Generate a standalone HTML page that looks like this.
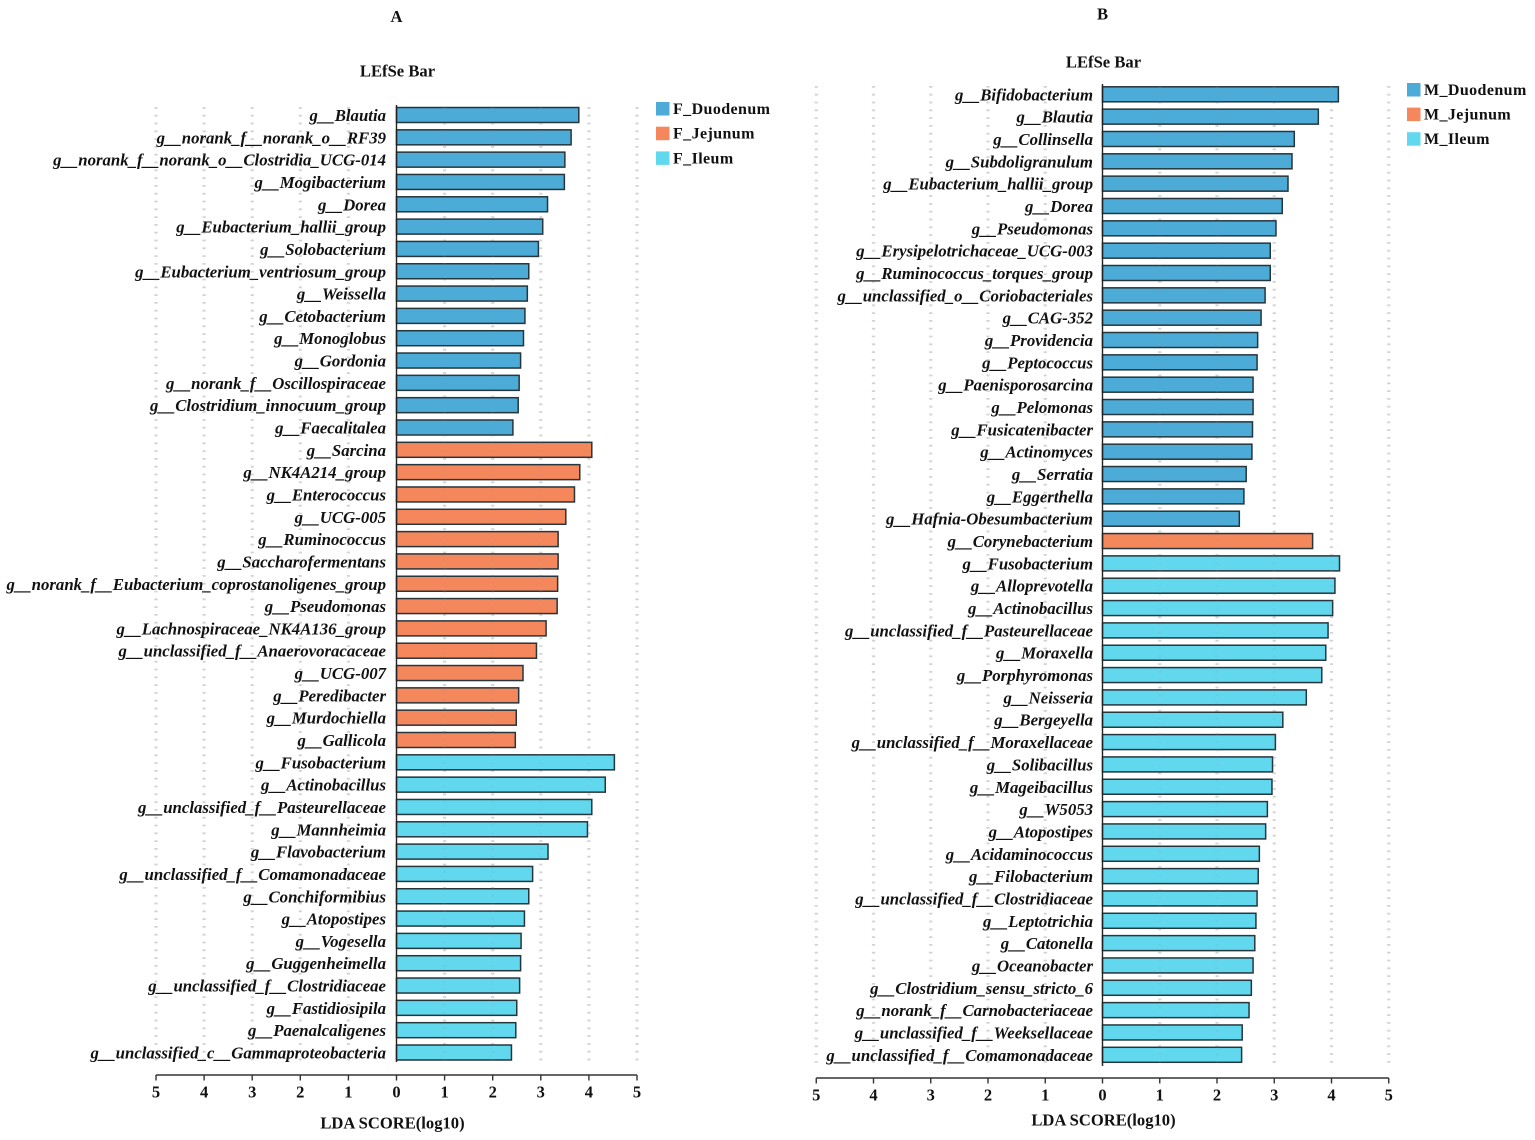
<!DOCTYPE html>
<html lang="en">
<head>
<meta charset="utf-8">
<title>LEfSe Bar charts</title>
<style>
html,body{margin:0;padding:0;background:#fff;}
svg{display:block;}
text{font-family:"Liberation Serif",serif;font-weight:bold;fill:#111;}
.lab{font-style:italic;font-size:16.8px;text-anchor:end;}
.tick{font-size:16.5px;text-anchor:middle;}
.ttl{font-size:16.6px;text-anchor:middle;}
.leg{font-size:16px;letter-spacing:.4px;}
</style>
</head>
<body>
<svg id="chart" xmlns="http://www.w3.org/2000/svg" width="1535" height="1140" viewBox="0 0 1535 1140">
<rect x="0" y="0" width="1535" height="1140" fill="#ffffff"/>
</svg>
<script>
var tickLabels = [5,4,3,2,1,0,1,2,3,4,5];

var groupsA = ["F_Duodenum","F_Jejunum","F_Ileum"];
var taxaA = ["g__Blautia","g__norank_f__norank_o__RF39","g__norank_f__norank_o__Clostridia_UCG-014","g__Mogibacterium","g__Dorea","g__Eubacterium_hallii_group","g__Solobacterium","g__Eubacterium_ventriosum_group","g__Weissella","g__Cetobacterium","g__Monoglobus","g__Gordonia","g__norank_f__Oscillospiraceae","g__Clostridium_innocuum_group","g__Faecalitalea","g__Sarcina","g__NK4A214_group","g__Enterococcus","g__UCG-005","g__Ruminococcus","g__Saccharofermentans","g__norank_f__Eubacterium_coprostanoligenes_group","g__Pseudomonas","g__Lachnospiraceae_NK4A136_group","g__unclassified_f__Anaerovoracaceae","g__UCG-007","g__Peredibacter","g__Murdochiella","g__Gallicola","g__Fusobacterium","g__Actinobacillus","g__unclassified_f__Pasteurellaceae","g__Mannheimia","g__Flavobacterium","g__unclassified_f__Comamonadaceae","g__Conchiformibius","g__Atopostipes","g__Vogesella","g__Guggenheimella","g__unclassified_f__Clostridiaceae","g__Fastidiosipila","g__Paenalcaligenes","g__unclassified_c__Gammaproteobacteria"];
var valuesA = [3.79,3.63,3.50,3.49,3.14,3.04,2.95,2.75,2.72,2.67,2.64,2.58,2.55,2.53,2.42,4.06,3.81,3.70,3.52,3.36,3.36,3.35,3.34,3.11,2.91,2.63,2.54,2.49,2.47,4.53,4.34,4.06,3.97,3.15,2.83,2.75,2.66,2.59,2.58,2.56,2.50,2.48,2.39];
var memberA = [0,0,0,0,0,0,0,0,0,0,0,0,0,0,0,1,1,1,1,1,1,1,1,1,1,1,1,1,1,2,2,2,2,2,2,2,2,2,2,2,2,2,2];

var groupsB = ["M_Duodenum","M_Jejunum","M_Ileum"];
var taxaB = ["g__Bifidobacterium","g__Blautia","g__Collinsella","g__Subdoligranulum","g__Eubacterium_hallii_group","g__Dorea","g__Pseudomonas","g__Erysipelotrichaceae_UCG-003","g__Ruminococcus_torques_group","g__unclassified_o__Coriobacteriales","g__CAG-352","g__Providencia","g__Peptococcus","g__Paenisporosarcina","g__Pelomonas","g__Fusicatenibacter","g__Actinomyces","g__Serratia","g__Eggerthella","g__Hafnia-Obesumbacterium","g__Corynebacterium","g__Fusobacterium","g__Alloprevotella","g__Actinobacillus","g__unclassified_f__Pasteurellaceae","g__Moraxella","g__Porphyromonas","g__Neisseria","g__Bergeyella","g__unclassified_f__Moraxellaceae","g__Solibacillus","g__Mageibacillus","g__W5053","g__Atopostipes","g__Acidaminococcus","g__Filobacterium","g__unclassified_f__Clostridiaceae","g__Leptotrichia","g__Catonella","g__Oceanobacter","g__Clostridium_sensu_stricto_6","g__norank_f__Carnobacteriaceae","g__unclassified_f__Weeksellaceae","g__unclassified_f__Comamonadaceae"];
var valuesB = [4.12,3.77,3.35,3.31,3.24,3.14,3.03,2.93,2.93,2.84,2.77,2.71,2.70,2.63,2.63,2.62,2.61,2.51,2.47,2.39,3.67,4.14,4.06,4.02,3.94,3.90,3.83,3.56,3.15,3.02,2.97,2.96,2.88,2.85,2.74,2.72,2.70,2.68,2.66,2.63,2.60,2.56,2.44,2.43];
var memberB = [0,0,0,0,0,0,0,0,0,0,0,0,0,0,0,0,0,0,0,0,1,2,2,2,2,2,2,2,2,2,2,2,2,2,2,2,2,2,2,2,2,2,2,2];

var palette = ["#4dabd7","#f5875c","#62d8ee"];
var NS = "http://www.w3.org/2000/svg";
var root = document.getElementById("chart");

function mk(tag, attrs, parent, txt) {
  var e = document.createElementNS(NS, tag);
  for (var k in attrs) { e.setAttribute(k, attrs[k]); }
  if (txt !== undefined) { e.textContent = txt; }
  (parent || root).appendChild(e);
  return e;
}

function drawPanel(letter, taxa, values, member, groups, cfg) {
  var g = mk("g", {});
  
  
  function xs(v) { return cfg.x0 + v * cfg.unit; }
  function ys(i) { return cfg.yFirst + i * (cfg.yLast - cfg.yFirst) / (taxa.length - 1); }

  var t1 = mk("text", {x: cfg.x0, y: cfg.letterY, "class": "ttl"}, g, letter);
  
  
  var t2 = mk("text", {x: cfg.x0 + 1, y: cfg.titleY, "class": "ttl"}, g, "LEfSe Bar");
  
  

  tickLabels.forEach(function (lab, i) {
    var v = i - 5;
    if (v !== 0) {
      var gl = mk("line", {x1: xs(v), x2: xs(v), y1: cfg.gridTop, y2: cfg.gridBot, stroke: "#dfdfdf", "stroke-width": 3.2, "stroke-dasharray": "1.8 6"}, g);
      
      
    }
  });

  taxa.forEach(function (name, i) {
    var r = mk("rect", {x: xs(0), y: ys(i) - cfg.barH / 2, width: values[i] * cfg.unit, height: cfg.barH, fill: palette[member[i]], stroke: "#26363d", "stroke-width": 1.5}, g);
    
    
    var l = mk("text", {x: cfg.labelX, y: ys(i) + 6, "class": "lab"}, g, name);
    
    
  });

  tickLabels.forEach(function (lab, i) {
    var v = i - 5;
    if (v !== 0) {
      var gl = mk("line", {x1: xs(v), x2: xs(v), y1: cfg.gridTop, y2: cfg.gridBot, stroke: "#8a9aa0", "stroke-opacity": 0.14, "stroke-width": 3.2, "stroke-dasharray": "1.8 6"}, g);
      
      
    }
  });

  var yl = mk("line", {x1: xs(0), x2: xs(0), y1: cfg.gridTop - 2, y2: cfg.gridBot, stroke: "#222", "stroke-width": 1.4}, g);
  
  

  var al = mk("line", {x1: xs(-5), x2: xs(5), y1: cfg.axisY, y2: cfg.axisY, stroke: "#333", "stroke-width": 1.5}, g);
  
  

  tickLabels.forEach(function (lab, i) {
    var v = i - 5;
    var tk = mk("line", {x1: xs(v), x2: xs(v), y1: cfg.axisY, y2: cfg.axisY + 5.5, stroke: "#333", "stroke-width": 1.4}, g);
    
    
    var tl = mk("text", {x: xs(v), y: cfg.axisY + 22.5, "class": "tick"}, g, lab);
    
    
  });

  var xt = mk("text", {x: cfg.xTitleX, y: cfg.xTitleY, "class": "ttl"}, g, "LDA SCORE(log10)");
  
  

  groups.forEach(function (name, i) {
    var s = mk("rect", {x: cfg.legX, y: cfg.legY + i * cfg.legStep, width: 13.5, height: 13.5, fill: palette[i]}, g);
    
    
    var lt = mk("text", {x: cfg.legX + 17, y: cfg.legY + 12 + i * cfg.legStep, "class": "leg"}, g, name);
    
    
  });
}

drawPanel("A", taxaA, valuesA, memberA, groupsA, {
  x0: 396.5, unit: 48.1, yFirst: 115, yLast: 1052.5, barH: 15,
  gridTop: 107, gridBot: 1062, axisY: 1075, letterY: 22, titleY: 76.5, xTitleY: 1128.5,
  legX: 656, legY: 102, legStep: 24.7, labelX: 386, xTitleX: 392.5
});
drawPanel("B", taxaB, valuesB, memberB, groupsB, {
  x0: 1102.5, unit: 57.25, yFirst: 94.3, yLast: 1054.8, barH: 15,
  gridTop: 86, gridBot: 1066, axisY: 1078, letterY: 19.5, titleY: 67.5, xTitleY: 1125.5,
  legX: 1407, legY: 83, legStep: 24.6, labelX: 1093, xTitleX: 1103.5
});
</script>
</body>
</html>
